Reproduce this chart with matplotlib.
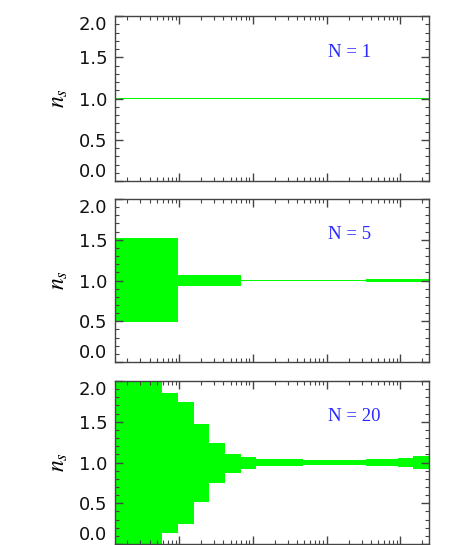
import numpy as np
import matplotlib.pyplot as plt
from matplotlib.ticker import MultipleLocator, LogLocator, NullFormatter

plt.rcParams['mathtext.fontset'] = 'stix'

# x range (log), equal log bins
x_min = 1.36e-4
x_max = 2.45

# y ticks
y_ticks = [0.0, 0.5, 1.0, 1.5, 2.0]

# N=1
lo_1 = [0.988]
hi_1 = [1.012]

# N=5
lo_5 = [0.49, 0.938, 0.988, 0.988, 0.987]
hi_5 = [1.52, 1.062, 1.012, 1.012, 1.013]

# N=20
hi_20 = [2.6, 2.4, 2.2, 1.855, 1.747, 1.473, 1.24, 1.108, 1.062, 1.046,
         1.045, 1.037, 1.033, 1.033, 1.033, 1.033, 1.04, 1.045, 1.055, 1.08]
lo_20 = [-0.6, -0.4, -0.2, 0.129, 0.245, 0.515, 0.743, 0.876, 0.925, 0.952,
         0.955, 0.963, 0.967, 0.967, 0.967, 0.967, 0.96, 0.955, 0.943, 0.918]

panels = [("N = 1", lo_1, hi_1), ("N = 5", lo_5, hi_5), ("N = 20", lo_20, hi_20)]

fig = plt.figure(figsize=(4.63, 5.45), dpi=100)
W, H = 463, 545
# pixel top / height of each panel
tops = [16, 199, 381]
heights = [165, 163, 163]

for (label, lo, hi), top, h in zip(panels, tops, heights):
    ax = fig.add_axes([115 / W, (H - top - h) / H, 314 / W, h / H])
    edges = np.logspace(np.log10(x_min), np.log10(x_max), len(hi) + 1)
    ax.stairs(hi, edges, baseline=lo, fill=True, color="#00ff00", lw=0)
    ax.set_xscale("log")
    ax.set_xlim(x_min, x_max)
    ax.set_ylim(0, 2.0)
    ylabels = ax.set_yticks(y_ticks, [f"{v:.1f}" for v in y_ticks])
    ax.yaxis.set_minor_locator(MultipleLocator(0.1))
    ax.xaxis.set_major_locator(LogLocator(base=10))
    ax.xaxis.set_minor_locator(LogLocator(base=10, subs=np.arange(2, 10)))
    ax.xaxis.set_major_formatter(NullFormatter())
    ax.xaxis.set_minor_formatter(NullFormatter())
    ax.tick_params(which="both", direction="in", top=True, right=True,
                   color="#444444", labelsize=13, labelcolor="#111111")
    ax.tick_params(which="major", length=6, width=1, pad=5.5)
    ax.tick_params(which="minor", length=3, width=0.8)
    for s in ax.spines.values():
        s.set_color("#444444")
        s.set_linewidth(1)
    ticks = ax.yaxis.get_major_ticks()
    ticks[0].label1.set_va("bottom")
    ticks[-1].label1.set_va("top")
    ax.set_ylabel(r"$n_s$", fontsize=17, labelpad=6)
    ax.text(0.677, 0.78, label, transform=ax.transAxes,
            color="#2a2aff", fontsize=13.5, family="Liberation Serif",
            ha="left", va="center")

fig.savefig("out.png", dpi=100)
